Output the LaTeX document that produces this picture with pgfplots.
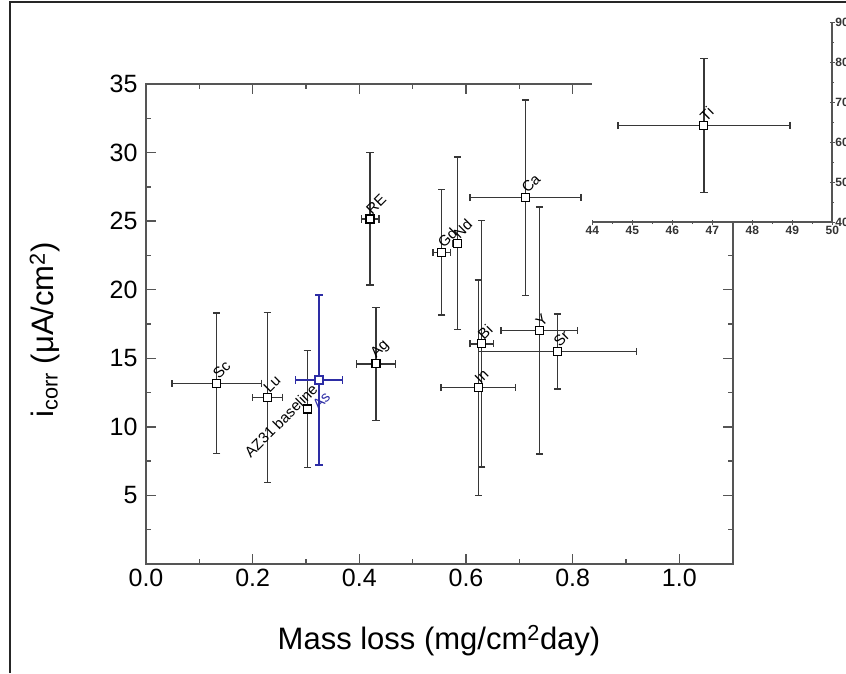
\documentclass[border=0pt]{standalone}
\usepackage{pgfplots}
\pgfplotsset{compat=1.18}
\usepackage{fontspec}
\setmainfont{Liberation Sans}
\definecolor{axgray}{RGB}{85,85,85}
\definecolor{errgray}{RGB}{55,55,55}
\definecolor{asblue}{RGB}{45,45,165}
\tikzset{ptlabel/.style={anchor=south west,rotate=45,inner sep=0pt,xshift=4pt,yshift=0.5pt,font=\fontsize{15}{17}\selectfont}}
\begin{document}
\begin{tikzpicture}[x=1pt,y=1pt]
\useasboundingbox (0,0) rectangle (846,673);
% outer frame (left and top)
\draw[line width=1.6pt,black!85] (10,0) -- (10,671) -- (846,671);
\pgfplotsset{
  mystyle/.style={
    scale only axis,
    clip=false,
    /pgf/number format/assume math mode=true,
    axis line style={line width=2pt,axgray,-},
    tick style={line width=1.4pt,axgray},
    tick align=inside,
    major tick length=10pt,
    minor tick length=5pt,
    error bars/error bar style={line width=1.4pt,errgray},
    error bars/error mark options={rotate=90,mark size=3.6pt,line width=1.4pt,errgray},
  },
}
\begin{axis}[mystyle,
  at={(146pt,109pt)},anchor=south west,
  width=586.7pt,height=480pt,
  xmin=0,xmax=1.1,ymin=0,ymax=35,
  xtick={0,0.2,0.4,0.6,0.8,1.0},
  xticklabels={0.0,0.2,0.4,0.6,0.8,1.0},
  minor xtick={0.1,0.3,0.5,0.7,0.9},
  ytick={5,10,15,20,25,30,35},
  minor ytick={2.5,7.5,12.5,17.5,22.5,27.5,32.5},
  ticklabel style={font=\fontsize{25}{30}\selectfont},
  xticklabel style={yshift=-2pt},
  yticklabel style={xshift=-5pt},
]
\addplot[only marks,mark=square*,mark size=4pt,mark options={fill=white,draw=black,line width=1.1pt},
  error bars/.cd,x dir=both,x explicit,y dir=both,y explicit]
  table[x=x,y=y,x error=ex,y error=ey] {
x y ex ey
0.1325 13.18 0.0835 5.11
0.2275 12.16 0.028 6.2
0.3025 11.30 0.004 4.25
0.420 25.16 0.0165 4.83
0.4313 14.59 0.0366 4.11
0.5544 22.73 0.0166 4.56
0.5838 23.39 0.008 6.29
0.623 12.86 0.0697 7.85
0.6294 16.05 0.022 8.99
0.7113 26.72 0.104 7.12
0.7375 17.02 0.0716 9.0
0.7713 15.49 0.148 2.74
};
\addplot[only marks,mark=square*,mark size=4pt,mark options={fill=white,draw=asblue,line width=1.1pt},
  error bars/.cd,x dir=both,x explicit,y dir=both,y explicit,
  error bar style={line width=1.4pt,asblue},
  error mark options={rotate=90,mark size=3.6pt,line width=1.4pt,asblue}]
  table[x=x,y=y,x error=ex,y error=ey] {
x y ex ey
0.3244 13.42 0.0443 6.2
};
\node[ptlabel] at (axis cs:0.1325,13.18) {Sc};
\node[ptlabel] at (axis cs:0.2275,12.16) {Lu};
\node[ptlabel] at (axis cs:0.420,25.16) {RE};
\node[ptlabel] at (axis cs:0.4313,14.59) {Ag};
\node[ptlabel] at (axis cs:0.5544,22.73) {Gd};
\node[ptlabel] at (axis cs:0.5838,23.39) {Nd};
\node[ptlabel] at (axis cs:0.623,12.86) {In};
\node[ptlabel] at (axis cs:0.6294,16.05) {Bi};
\node[ptlabel] at (axis cs:0.7113,26.72) {Ca};
\node[ptlabel] at (axis cs:0.7375,17.02) {Y};
\node[ptlabel] at (axis cs:0.7713,15.49) {Sr};
\node[rotate=45,inner sep=0pt,font=\fontsize{15}{17}\selectfont] at (axis cs:0.253,10.45) {AZ31 baseline};
\node[rotate=45,inner sep=0pt,font=\fontsize{15}{17}\selectfont,text=asblue] at (axis cs:0.329,11.9) {As};
\end{axis}
\begin{axis}[mystyle,
  at={(592.3pt,450.7pt)},anchor=south west,
  width=240pt,height=200pt,
  xmin=44,xmax=50,ymin=40,ymax=90,
  axis x line=bottom, axis y line=right,
  axis background/.style={fill=white},
  xtick={44,45,46,47,48,49,50},
  minor xtick={44.5,45.5,46.5,47.5,48.5,49.5},
  ytick={40,50,60,70,80,90},
  minor ytick={45,55,65,75,85},
  major tick length=5pt,
  minor tick length=3pt,
  axis line style={line width=2pt,axgray,-},
  tick style={line width=1.2pt,axgray},
  ticklabel style={font=\bfseries\fontsize{12}{14}\selectfont,text=black!80},
  xticklabel style={yshift=2pt},
  yticklabel style={xshift=-3pt},
]
\addplot[only marks,mark=square*,mark size=4pt,mark options={fill=white,draw=black,line width=1.1pt},
  error bars/.cd,x dir=both,x explicit,y dir=both,y explicit]
  table[x=x,y=y,x error=ex,y error=ey] {
x y ex ey
46.79 64.2 2.15 16.7
};
\node[ptlabel] at (axis cs:46.79,64.2) {Ti};
\end{axis}
\node at (439,32) {\fontsize{31}{36}\selectfont Mass loss (mg/cm\textsuperscript{2}day)};
\node[rotate=90] at (45,343) {\fontsize{31}{36}\selectfont i\textsubscript{corr} (μA/cm\textsuperscript{2})};
\end{tikzpicture}
\end{document}
